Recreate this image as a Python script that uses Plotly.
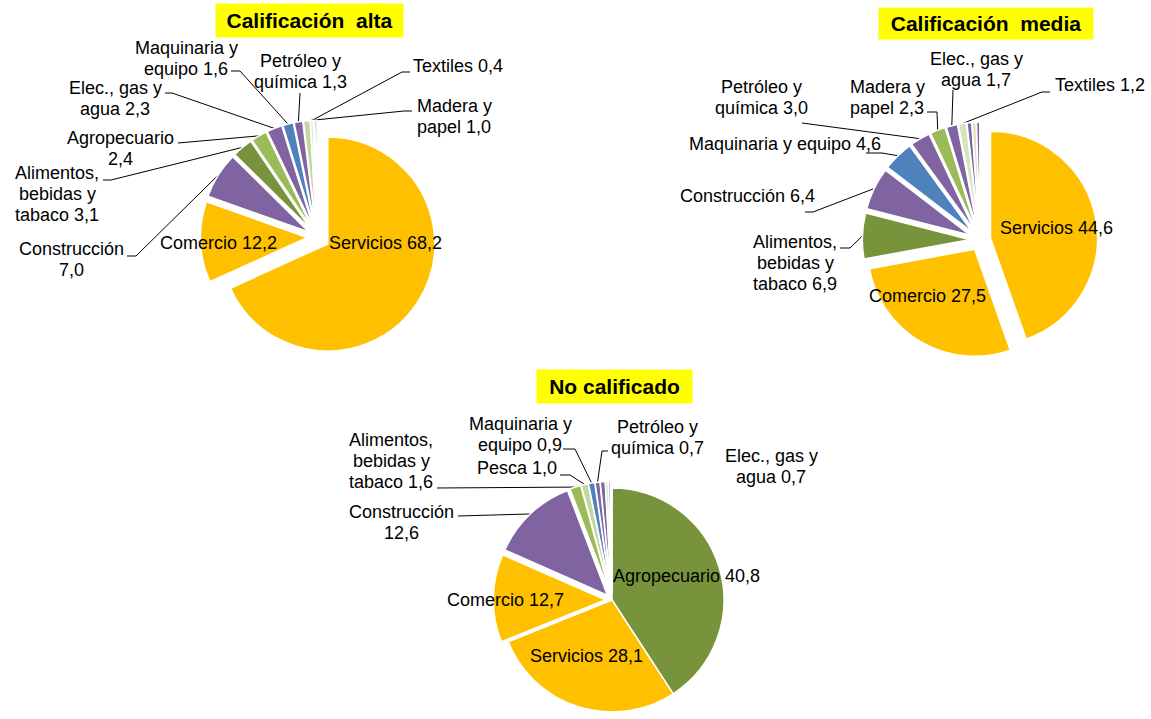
import math
import plotly.graph_objects as go

W, H = 1151, 719

# ---------------- data ----------------
alta_cats = ["Servicios", "Comercio", "Construcción", "Alimentos, bebidas y tabaco",
             "Agropecuario", "Elec., gas y agua", "Maquinaria y equipo",
             "Petróleo y química", "Madera y papel", "Textiles", "Pesca", "Minería"]
alta_vals = [68.2, 12.2, 7.0, 3.1, 2.4, 2.3, 1.6, 1.3, 1.0, 0.4, 0.2, 0.3]

media_cats = ["Servicios", "Comercio", "Alimentos, bebidas y tabaco", "Construcción",
              "Maquinaria y equipo", "Petróleo y química", "Madera y papel",
              "Elec., gas y agua", "Textiles", "Agropecuario", "Pesca", "Minería"]
media_vals = [44.6, 27.5, 6.9, 6.4, 4.6, 3.0, 2.3, 1.7, 1.2, 0.7, 0.6, 0.5]

nocal_cats = ["Agropecuario", "Servicios", "Comercio", "Construcción",
              "Alimentos, bebidas y tabaco", "Pesca", "Maquinaria y equipo",
              "Petróleo y química", "Elec., gas y agua", "Textiles", "Madera y papel", "Minería"]
nocal_vals = [40.8, 28.1, 12.7, 12.6, 1.6, 1.0, 0.9, 0.7, 0.7, 0.4, 0.3, 0.2]

titles = ["Calificación\u00a0 alta", "Calificación\u00a0 media", "No calificado"]

# ---------------- styles ----------------
YEL, PUR, OLV, LGR, PGR, VPG, BLU = "#FFC000", "#8064A2", "#77933C", "#9BBB59", "#C3D69B", "#D7E4BD", "#4F81BD"
FONT = "Liberation Sans, Arial, sans-serif"
FS = 18
LINE_H = 21


def fmt(v):
    return f"{v:.1f}".replace(".", ",")


charts = [
    dict(cats=alta_cats, vals=alta_vals,
         colors=[YEL, YEL, PUR, OLV, LGR, PUR, BLU, PUR, PGR, VPG, PUR, PUR],
         pulls=[0.12] + [0.09] * 11,
         cx=317, cy=237, r=107,
         title=titles[0], tbox=(309.5, 20.5, 187, 33),
         inside={"Servicios": (385, 243), "Comercio": (218, 243)},
         outside={
             "Construcción": ("Construcción<br>{v}", 71, 259, [(127, 256), (136, 256)]),
             "Alimentos, bebidas y tabaco": ("Alimentos,<br>bebidas y<br>tabaco {v}", 57, 194, [(103, 180), (111, 180)]),
             "Agropecuario": ("Agropecuario<br>{v}", 120, 148, [(178, 143)]),
             "Elec., gas y agua": ("Elec., gas y<br>agua {v}", 115, 98, [(165, 93), (172, 93)]),
             "Maquinaria y equipo": ("Maquinaria y<br>equipo {v}", 186, 58, [(231, 71), (240, 71)]),
             "Petróleo y química": ("Petróleo y<br>química {v}", 300, 71, [(300, 93)]),
             "Textiles": ("Textiles {v}", 458, 66, [(410, 72), (402, 72)]),
             "Madera y papel": ("Madera y<br>papel {v}", 454, 116, [(412, 111), (404, 111)]),
         }),
    dict(cats=media_cats, vals=media_vals,
         colors=[YEL, YEL, OLV, PUR, BLU, PUR, LGR, PUR, VPG, PUR, VPG, PUR],
         pulls=[0.1] * 12,
         cx=980, cy=240, r=107,
         title=titles[1], tbox=(986, 23.5, 214, 31),
         inside={"Servicios": (1056, 228), "Comercio": (927, 296)},
         outside={
             "Alimentos, bebidas y tabaco": ("Alimentos,<br>bebidas y<br>tabaco {v}", 795, 263, [(840, 248), (850, 248)]),
             "Construcción": ("Construcción {v}", 747, 196, [(805, 212), (813, 212)]),
             "Maquinaria y equipo": ("Maquinaria y equipo {v}", 785, 144, [(866, 153), (882, 153)]),
             "Petróleo y química": ("Petróleo y<br>química {v}", 761, 97, [(802, 123)]),
             "Madera y papel": ("Madera y<br>papel {v}", 887, 97, [(927, 112), (937, 112)]),
             "Elec., gas y agua": ("Elec., gas y<br>agua {v}", 976, 69, [(953, 90)]),
             "Textiles": ("Textiles {v}", 1100, 85, [(1050, 92), (1042, 92)]),
         }),
    dict(cats=nocal_cats, vals=nocal_vals,
         colors=[OLV, YEL, YEL, PUR, LGR, PGR, BLU, PUR, PUR, VPG, PUR, VPG],
         pulls=[0, 0] + [0.06] * 10,
         cx=612, cy=600, r=112,
         title=titles[2], tbox=(614.5, 386.5, 155, 33),
         inside={"Agropecuario": (686, 576), "Servicios": (586, 656), "Comercio": (505, 600)},
         outside={
             "Construcción": ("Construcción<br>{v}", 401, 522, [(458, 516)]),
             "Alimentos, bebidas y tabaco": ("Alimentos,<br>bebidas y<br>tabaco {v}", 391, 461, [(437, 488)]),
             "Pesca": ("Pesca {v}", 517, 468, [(560, 475), (570, 475)]),
             "Maquinaria y equipo": ("Maquinaria y<br>equipo {v}", 520, 434, [(563, 449), (575, 449)]),
             "Petróleo y química": ("Petróleo y<br>química {v}", 657, 437, [(608, 451), (602, 451)]),
             "Elec., gas y agua": ("Elec., gas y<br>agua {v}", 771, 466, None),
         }),
]

fig = go.Figure()
annotations = []

for ch in charts:
    vals = ch["vals"]
    total = sum(vals)
    half = ch["r"] * (1 + max(ch["pulls"]))
    cx, cy = ch["cx"], ch["cy"]
    dom_x = [(cx - half) / W, (cx + half) / W]
    dom_y = [max(0.0, 1 - (cy + half) / H), min(1.0, 1 - (cy - half) / H)]
    fig.add_trace(go.Pie(
        labels=ch["cats"], values=vals, sort=False, direction="clockwise", rotation=0,
        pull=ch["pulls"], textinfo="none", hoverinfo="label+value",
        marker=dict(colors=ch["colors"], line=dict(color="white", width=1.5)),
        domain=dict(x=dom_x, y=dom_y), showlegend=False))

    # slice outer mid points (from data)
    cum = 0.0
    outer = {}
    for cat, v, p in zip(ch["cats"], vals, ch["pulls"]):
        mid = (cum + v / 2) / total
        cum += v
        th = 2 * math.pi * mid
        rr = ch["r"] * (1 + p)
        outer[cat] = (cx + rr * math.sin(th), cy - rr * math.cos(th))

    lx, ly = [], []
    vmap = dict(zip(ch["cats"], vals))
    for cat, (tmpl, x, y, way) in ch["outside"].items():
        text = tmpl.format(v=fmt(vmap[cat]))
        lines = text.split("<br>")
        n = len(lines)
        for i, ln in enumerate(lines):
            annotations.append(dict(x=x, y=y + (i - (n - 1) / 2) * LINE_H, text=ln,
                                    xref="x", yref="y", showarrow=False,
                                    xanchor="center", yanchor="middle",
                                    font=dict(family=FONT, size=FS, color="black")))
        if way:
            pts = list(way) + [outer[cat]]
            for px, py in pts:
                lx.append(px)
                ly.append(py)
            lx.append(None)
            ly.append(None)
    if lx:
        fig.add_trace(go.Scatter(x=lx, y=ly, mode="lines", line=dict(color="black", width=1),
                                 hoverinfo="skip", showlegend=False))

    for cat, (x, y) in ch["inside"].items():
        annotations.append(dict(x=x, y=y, text=f"{cat} {fmt(vmap[cat])}", xref="x", yref="y",
                                showarrow=False, xanchor="center", yanchor="middle",
                                font=dict(family=FONT, size=FS, color="black")))

    tx, ty, tw, th_ = ch["tbox"]
    annotations.append(dict(x=tx, y=ty, text=f"<b>{ch['title']}</b>", xref="x", yref="y",
                            showarrow=False, xanchor="center", yanchor="middle",
                            width=tw, height=th_, bgcolor="#FFFF00", borderpad=0,
                            font=dict(family=FONT, size=21, color="black")))

fig.update_layout(
    width=W, height=H, margin=dict(l=0, r=0, t=0, b=0),
    paper_bgcolor="white", plot_bgcolor="rgba(0,0,0,0)",
    xaxis=dict(range=[0, W], visible=False, fixedrange=True),
    yaxis=dict(range=[H, 0], visible=False, fixedrange=True),
    annotations=annotations, showlegend=False,
)

fig.write_html("out.html", config={"displayModeBar": False},
               post_script="document.body.style.margin='0';")
